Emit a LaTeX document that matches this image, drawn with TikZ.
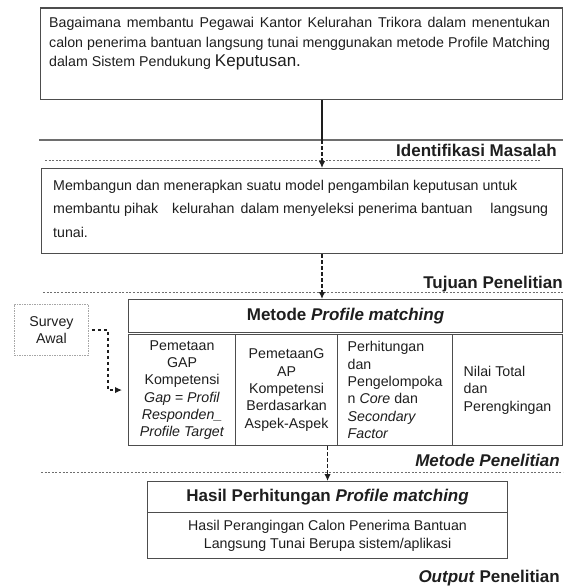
\documentclass[tikz,border=0pt]{standalone}
\usepackage{fontspec}
\setmainfont{Liberation Sans}
\usetikzlibrary{arrows.meta,calc}
\definecolor{ink}{HTML}{1E1E1E}
\definecolor{frame}{HTML}{4D4D4D}
\definecolor{sepc}{HTML}{6E6E6E}
\definecolor{lightc}{HTML}{A6A6A6}
\newcommand{\bodyf}{\fontsize{14.2}{17.3}\selectfont}
\newcommand{\headf}{\fontsize{17}{20}\selectfont\bfseries}
\begin{document}
\begin{tikzpicture}[x=1pt,y=-1pt,
  boxnode/.style={draw=frame, line width=1.1pt, inner sep=0pt, anchor=north west, text=ink},
  txt/.style={inner sep=0pt, text=ink, font=\bodyf},
  cellnode/.style={boxnode, font=\bodyf, minimum height=111pt},
  sepsolid/.style={draw=sepc, line width=1.3pt},
  sepdot/.style={draw=sepc, line width=0.9pt, dash pattern=on 2pt off 1.6pt},
  flow/.style={draw=ink, line width=1.3pt, dash pattern=on 3.5pt off 2.5pt, -{Latex[length=7pt,width=6.5pt]}},
  tag/.style={inner sep=0pt, anchor=base east, text=ink, font=\headf}
]
\useasboundingbox (0,0) rectangle (563,586);

% top box
\node[boxnode, minimum width=522pt, minimum height=91.5pt] (q) at (40,7.5) {};
\node[txt, anchor=north west, align=left, font=\fontsize{14.2}{19.5}\selectfont] (qt) at (49,15.5)
 {\rule{0pt}{12pt}\hbox to 501pt{Bagaimana membantu Pegawai Kantor Kelurahan Trikora dalam menentukan}\\
  \hbox to 501pt{calon penerima bantuan langsung tunai menggunakan metode Profile Matching}\\
  dalam Sistem Pendukung {\fontsize{17}{19.5}\selectfont Keputusan.}};

% separators and tags
\coordinate (j1) at (322,140);
\draw[sepsolid] (39,140) -- (563,140);
\node[tag] (im) at (557,156.5) {Identifikasi Masalah};
\draw[sepdot] (45,160) -- (541,160);

% box 2
\node[boxnode, minimum width=521pt, minimum height=85pt] (g) at (41,168) {};
\node[txt, anchor=north west, align=left, font=\fontsize{14.2}{23.5}\selectfont] (gt) at (53,178)
 {\rule{0pt}{12pt}Membangun dan menerapkan suatu model pengambilan keputusan untuk\\
  \hbox to 495pt{membantu pihak\hspace{14pt}kelurahan\hspace{6pt}dalam menyeleksi penerima bantuan\hfill langsung}\\
  tunai.};

\node[tag] (tp) at (563,288.5) {Tujuan Penelitian};
\draw[sepdot] (43,292) -- (563,292);

% metode box
\node[boxnode, minimum width=434pt, minimum height=33pt, font=\headf] (mh) at (128,299) {Metode \textit{Profile matching}};
\node[cellnode, minimum width=107pt, align=center] (c1) at (128,334)
 {Pemetaan\\GAP\\Kompetensi\\\textit{Gap = Profil}\\\textit{Responden\_}\\\textit{Profile Target}};
\node[cellnode, minimum width=102pt, align=center] (c2) at (235,334)
 {PemetaanG\\AP\\Kompetensi\\Berdasarkan\\Aspek-Aspek};
\node[cellnode, minimum width=115pt, align=left] (c3) at (337,334)
 {Perhitungan\\dan\\Pengelompoka\\n \textit{Core} dan\\\textit{Secondary}\\\textit{Factor}};
\node[cellnode, minimum width=110pt, align=left] (c4) at (452,334)
 {Nilai Total\\dan\\Perengkingan};

% survey
\node[draw=lightc, line width=0.9pt, dash pattern=on 1.5pt off 1pt, minimum width=74pt, minimum height=51pt,
      inner sep=0pt, anchor=north west, align=center, font=\bodyf, text=ink] (sv) at (14,304) {Survey\\Awal};

\node[tag, font=\headf\itshape] (mp) at (560,466) {Metode Penelitian};
\draw[sepdot] (41,472) -- (563,472);

% hasil box
\node[boxnode, minimum width=360pt, minimum height=31pt, font=\headf] (hh) at (147,481) {Hasil Perhitungan \textit{Profile matching}};
\node[boxnode, minimum width=360pt, minimum height=46pt, font=\fontsize{14.2}{18}\selectfont, align=center] (hb) at (147,512)
 {Hasil Perangingan Calon Penerima Bantuan\\Langsung Tunai Berupa sistem/aplikasi};

\node[tag] (op) at (560,582) {\textit{Output} Penelitian};

% connectors
\coordinate (j3) at ($(c1.west)+(-20,0)$);
\draw[draw=ink, line width=1.4pt] (q.south -| j1) -- (j1);
\draw[flow] (j1) -- (g.north -| j1);
\draw[flow] (g.south -| j1) -- (mh.north -| j1);
\draw[flow] (c2.south -| hh.north) -- (hh.north);
\draw[flow] ([xshift=3pt]sv.east) -| (j3) -- ([xshift=-6pt]c1.west);
\end{tikzpicture}
\end{document}
